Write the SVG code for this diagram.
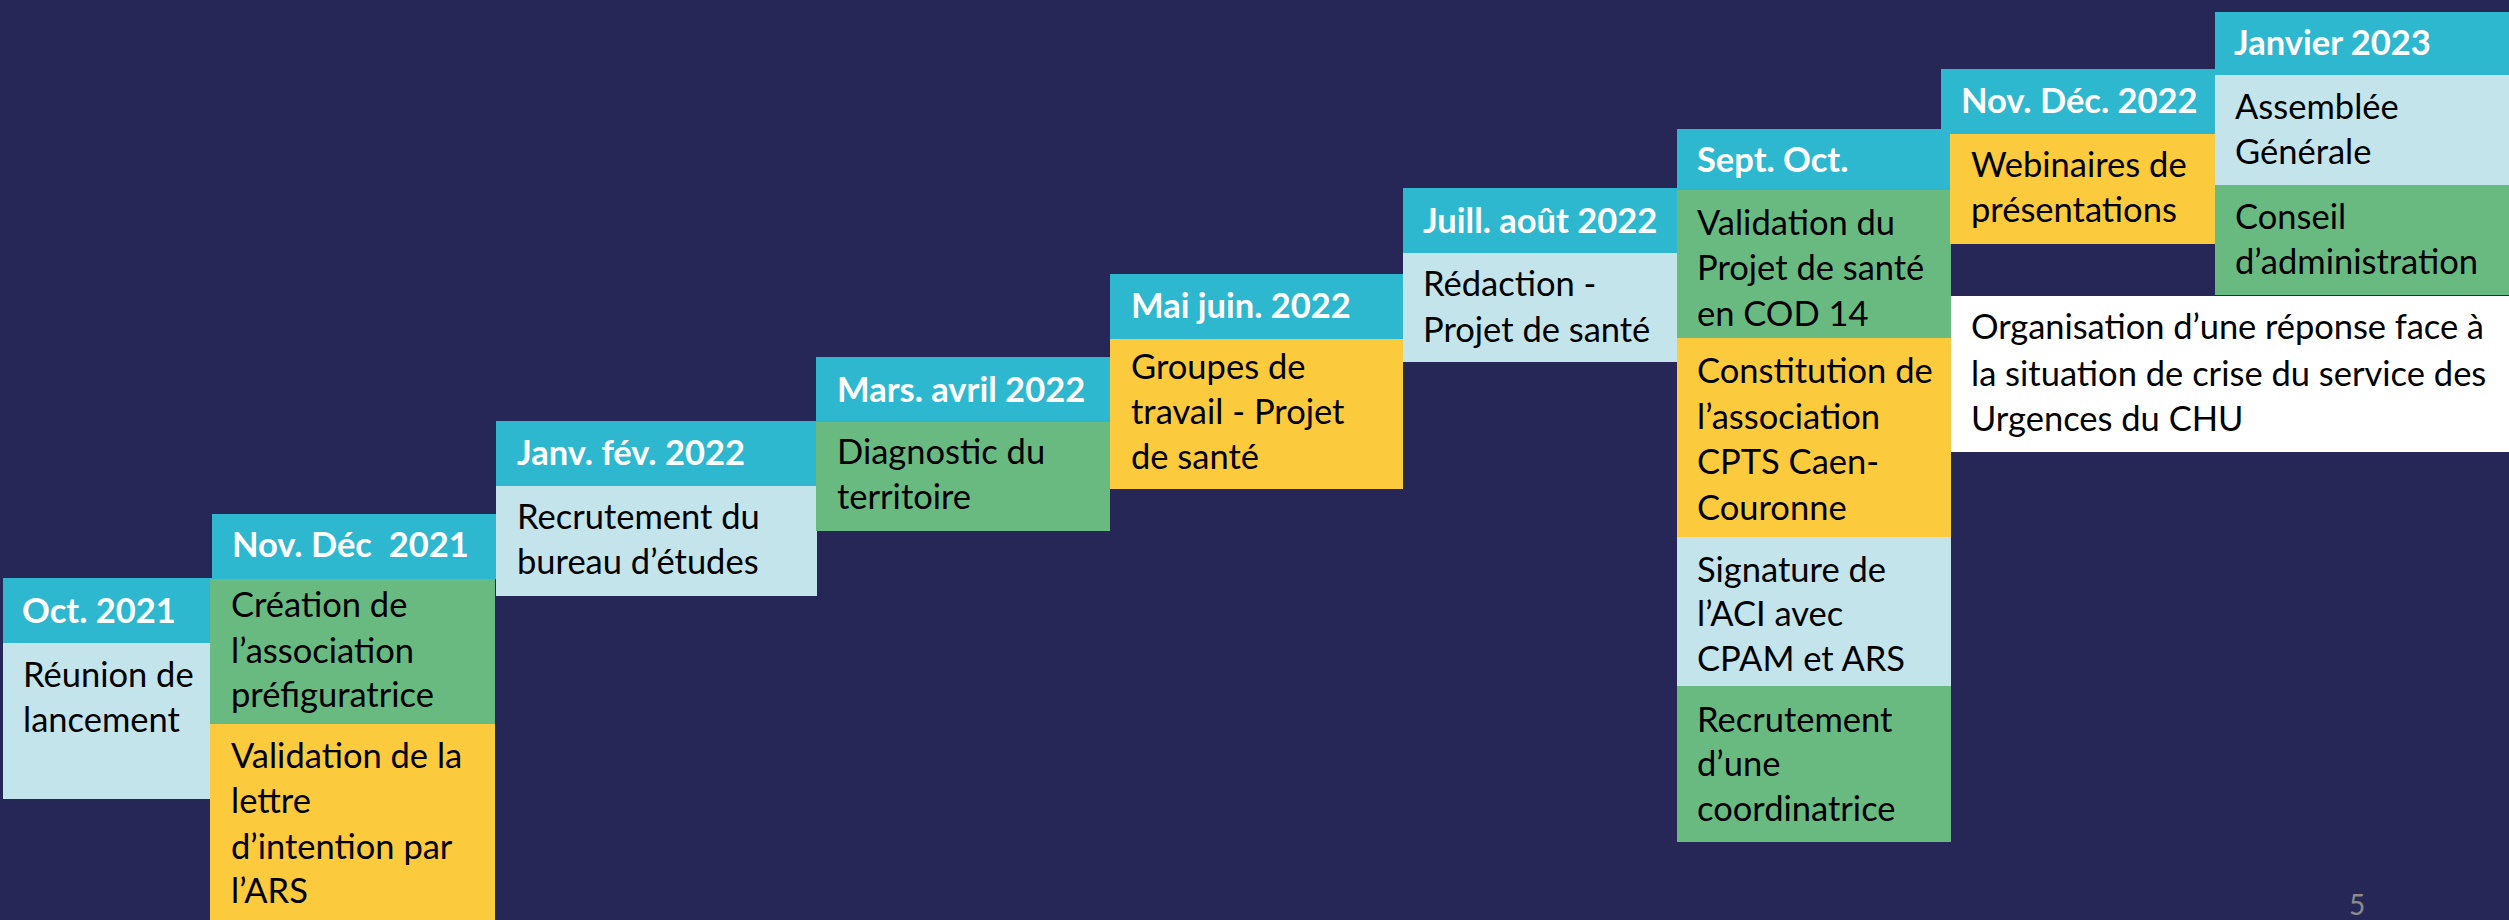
<svg xmlns="http://www.w3.org/2000/svg" width="2509" height="920" viewBox="0 0 2509 920">
<style>
.bg{fill:#272757}
.hd{fill:#2EB8D0}
.lb{fill:#C4E4EB}
.gr{fill:#69BA80}
.ye{fill:#FCCA3D}
.wh{fill:#FFFFFF}
.ht{font-family:Lato,"Liberation Sans",sans-serif;font-weight:bold;font-size:34.5px;fill:#FFFFFF}
.bt{font-family:Lato,"Liberation Sans",sans-serif;font-size:34.5px;fill:#000000}
.pg{font-family:Lato,"Liberation Sans",sans-serif;font-size:28px;fill:#8C8C8C}
</style>
<rect class="bg" x="0" y="0" width="2509" height="920"/>
<g id="connectors"/>
<g id="oct2021">
<rect class="hd" x="3" y="578" width="210" height="65"/>
<rect class="lb" x="3" y="643" width="207" height="156"/>
<text class="ht" x="22" y="623">Oct. 2021</text>
<text class="bt" x="23" y="687">Réunion de</text>
<text class="bt" x="23" y="732">lancement</text>
</g>
<g id="novdec2021">
<rect class="gr" x="210" y="579" width="285" height="145"/>
<rect class="ye" x="210" y="724" width="285" height="196"/>
<rect class="hd" x="212" y="514" width="285" height="65"/>
<text class="ht" x="232" y="557" xml:space="preserve">Nov. Déc  2021</text>
<text class="bt" x="231" y="617">Création de</text>
<text class="bt" x="231" y="663">l’association</text>
<text class="bt" x="231" y="707">préfiguratrice</text>
<text class="bt" x="231" y="768">Validation de la</text>
<text class="bt" x="231" y="813">lettre</text>
<text class="bt" x="231" y="859">d’intention par</text>
<text class="bt" x="231" y="903">l’ARS</text>
</g>
<g id="janvfev2022">
<rect class="hd" x="496" y="421" width="321" height="65"/>
<rect class="lb" x="496" y="486" width="321" height="110"/>
<text class="ht" x="517" y="465">Janv. fév. 2022</text>
<text class="bt" x="517" y="529">Recrutement du</text>
<text class="bt" x="517" y="574">bureau d’études</text>
</g>
<g id="marsavril2022">
<rect class="hd" x="816" y="357" width="294" height="65"/>
<rect class="gr" x="816" y="422" width="294" height="109"/>
<text class="ht" x="837" y="402">Mars. avril 2022</text>
<text class="bt" x="837" y="464">Diagnostic du</text>
<text class="bt" x="837" y="509">territoire</text>
</g>
<g id="maijuin2022">
<rect class="hd" x="1110" y="274" width="293" height="65"/>
<rect class="ye" x="1110" y="339" width="293" height="150"/>
<text class="ht" x="1131" y="318">Mai juin. 2022</text>
<text class="bt" x="1131" y="379">Groupes de</text>
<text class="bt" x="1131" y="424">travail - Projet</text>
<text class="bt" x="1131" y="469">de santé</text>
</g>
<g id="juillaout2022">
<rect class="hd" x="1403" y="188" width="274" height="65"/>
<rect class="lb" x="1403" y="253" width="274" height="109"/>
<text class="ht" x="1423" y="233">Juill. août 2022</text>
<text class="bt" x="1423" y="296">Rédaction -</text>
<text class="bt" x="1423" y="342">Projet de santé</text>
</g>
<g id="septoct">
<rect class="hd" x="1677" y="129" width="273" height="61"/>
<rect class="gr" x="1677" y="190" width="274" height="148"/>
<rect class="ye" x="1677" y="338" width="274" height="199"/>
<rect class="lb" x="1677" y="537" width="274" height="149"/>
<rect class="gr" x="1677" y="686" width="274" height="156"/>
<text class="ht" x="1697" y="172">Sept. Oct.</text>
<text class="bt" x="1697" y="235">Validation du</text>
<text class="bt" x="1697" y="280">Projet de santé</text>
<text class="bt" x="1697" y="326">en COD 14</text>
<text class="bt" x="1697" y="383">Constitution de</text>
<text class="bt" x="1697" y="429">l’association</text>
<text class="bt" x="1697" y="474">CPTS Caen-</text>
<text class="bt" x="1697" y="520">Couronne</text>
<text class="bt" x="1697" y="582">Signature de</text>
<text class="bt" x="1697" y="626">l’ACI avec</text>
<text class="bt" x="1697" y="671">CPAM et ARS</text>
<text class="bt" x="1697" y="732">Recrutement</text>
<text class="bt" x="1697" y="776">d’une</text>
<text class="bt" x="1697" y="821">coordinatrice</text>
</g>
<g id="novdec2022">
<rect class="hd" x="1941" y="69" width="274" height="65"/>
<rect class="ye" x="1950" y="134" width="265" height="110"/>
<text class="ht" x="1961" y="113">Nov. Déc. 2022</text>
<text class="bt" x="1971" y="177">Webinaires de</text>
<text class="bt" x="1971" y="222">présentations</text>
</g>
<g id="janvier2023">
<rect class="hd" x="2215" y="12" width="294" height="63"/>
<rect class="lb" x="2215" y="75" width="294" height="110"/>
<rect class="gr" x="2215" y="185" width="294" height="110"/>
<text class="ht" x="2234" y="55">Janvier 2023</text>
<text class="bt" x="2235" y="119">Assemblée</text>
<text class="bt" x="2235" y="164">Générale</text>
<text class="bt" x="2235" y="229">Conseil</text>
<text class="bt" x="2235" y="274">d’administration</text>
</g>
<g id="crise">
<rect class="wh" x="1951" y="296" width="558" height="156"/>
<text class="bt" x="1971" y="339" textLength="513" lengthAdjust="spacing">Organisation d’une réponse face à</text>
<text class="bt" x="1971" y="386">la situation de crise du service des</text>
<text class="bt" x="1971" y="431">Urgences du CHU</text>
</g>
<text class="pg" x="2349" y="915">5</text>
</svg>
